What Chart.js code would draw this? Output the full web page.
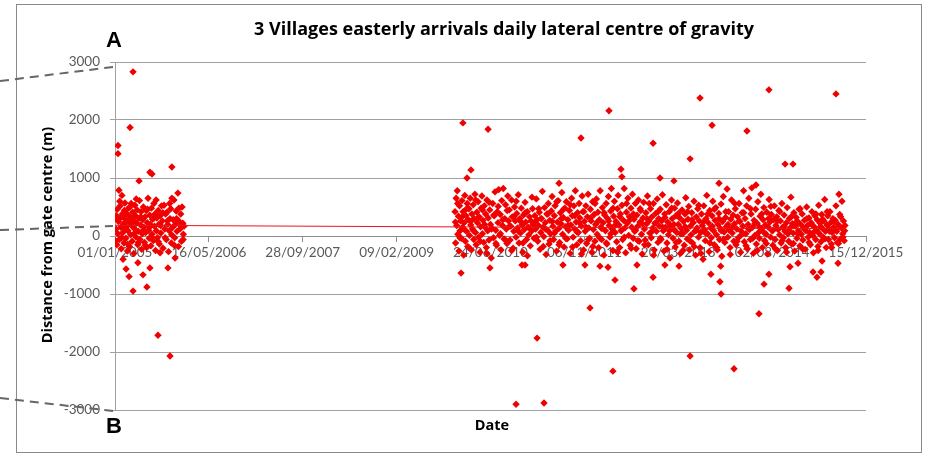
<!DOCTYPE html>
<html lang="en">

<head>
    <meta charset="UTF-8">
    <title>3 Villages easterly arrivals</title>
    <style>
        body { margin: 0; background: #fff; }
    </style>
</head>

<body>
    <canvas id="gravityChart" width="926" height="455"></canvas>

    <script src="https://cdn.jsdelivr.net/npm/chart.js"></script>
    <script>
        // x values are days since 01/01/2005, y values are metres from gate centre
        const xTickStep = 500;
        const yTicks = [-3000, -2000, -1000, 0, 1000, 2000, 3000];

        // first block of daily values (2005)
        const period2005 = [
            [96, 2830], [80, 1870], [16, 1560], [16, 1420], [128, 950], [186, 1100], [197, 1070], [303, 1190],
            [229, -1710], [293, -2070], [96, -950], [170, -880], [149, -670], [75, -700], [59, -570], [186, -550],
            [282, -550], [240, -290], [43, -400], [122, -460], [320, -380],
            [5, 120], [8, 350], [10, -150], [12, 460], [15, 40], [18, 250], [21, 790], [23, -60], [26, 300], [28, 520],
            [31, 150], [33, -220], [37, 700], [39, 380], [42, 60], [45, 210], [48, -120], [50, 440], [53, 570], [55, 290],
            [58, -40], [61, 160], [64, 380], [66, -260], [69, 90], [72, 480], [74, 240], [77, -180], [80, 330], [83, 20],
            [86, 560], [88, 180], [91, -90], [94, 410], [97, 270], [100, -300], [103, 130], [106, 530], [109, 350], [112, -20],
            [115, 220], [118, 450], [121, -150], [124, 80], [127, 300], [130, 610], [133, -60], [136, 190], [139, 420], [142, -230],
            [145, 40], [148, 280], [151, 500], [154, 150], [157, -110], [160, 330], [163, 60], [166, 440], [169, -200], [172, 230],
            [176, 650], [179, 100], [182, -40], [185, 360], [188, 200], [191, -170], [194, 480], [197, 30], [200, 290], [204, -80],
            [207, 560], [210, 170], [213, 380], [216, -250], [220, 90], [223, 310], [226, -30], [230, 440], [233, 200], [236, -140],
            [240, 350], [244, 50], [248, 520], [252, 260], [256, -210], [261, 530], [265, 120], [269, 380], [273, -60], [277, 410],
            [281, 200], [285, -270], [289, 90], [293, 300], [297, 470], [300, -120], [303, 650], [307, 150], [310, 280], [314, 620],
            [318, -30], [322, 200], [326, 430], [330, 80], [335, 740], [338, -180], [342, 250], [346, 120], [350, 380], [354, -90],
            [357, 500], [361, 220], [364, 30], [368, 170],
            [3, -80], [14, 280], [25, 600], [35, -30], [46, 360], [57, 120], [68, -140], [79, 500], [90, 230], [101, 40],
            [113, 640], [125, -110], [137, 330], [149, 90], [161, -160], [173, 460], [184, 150], [196, -20], [208, 310], [219, 620],
            [231, -100], [243, 180], [255, 400], [267, -30], [279, 260], [291, 560], [302, 20], [316, -160], [328, 300], [340, 480],
            [352, 160], [363, -60]
        ];

        // outliers of the second block (2009 - 2015)
        const outliers2010 = [
            [1853, 1950], [1987, 1840], [2482, 1690], [2631, 2160], [2866, 1600], [3063, 1330], [1896, 1140], [1875, 1000],
            [2695, 1150], [2700, 1020], [2903, 1000], [2977, 950], [2365, 910], [3116, 2380], [3180, 1910], [3366, 1810],
            [3483, 2520], [3840, 2450], [3569, 1240], [3611, 1240], [3217, 910], [3414, 880],
            [1843, -640], [1997, -550], [2136, -2900], [2285, -2880], [2248, -1760], [2530, -1240], [2652, -2330], [2663, -760],
            [2764, -910], [2866, -710], [3063, -2070], [3297, -2290], [3228, -1000], [3222, -790], [3174, -660], [3226, -520],
            [3430, -1340], [3457, -830], [3483, -660], [3590, -900], [3595, -530], [3638, -470], [3718, -620], [3760, -620],
            [3739, -710], [3766, -430], [3851, -470], [2168, -500], [2184, -500], [2386, -500], [2503, -500], [2583, -520],
            [2626, -540], [2780, -500], [2929, -500], [3004, -520]
        ];

        // main band of the second block
        const period2010 = [
            [1811, 420], [1814, -120], [1817, 650], [1820, 180], [1823, 780], [1826, 30], [1829, 340], [1832, -260], [1835, 520], [1838, 90],
            [1841, 260], [1845, -40], [1848, 610], [1851, 150], [1854, 420], [1857, -330], [1860, 230], [1863, 700], [1866, -90], [1869, 350],
            [1872, 80], [1876, 560], [1879, -180], [1882, 280], [1885, 470], [1888, 10], [1892, 650], [1895, 190], [1898, -240], [1901, 380],
            [1904, 120], [1908, 540], [1911, -60], [1914, 300], [1917, 720], [1920, 60], [1924, -150], [1927, 410], [1930, 230], [1934, 590],
            [1937, -20], [1940, 330], [1944, -280], [1947, 160], [1950, 480], [1954, 690], [1957, 40], [1960, 270], [1964, -110], [1967, 520],
            [1971, 150], [1974, 380], [1978, -200], [1981, 620], [1985, 90], [1988, 310], [1992, -70], [1996, 450], [2000, 200], [2004, -380],
            [2008, 140], [2012, 560], [2016, -30], [2020, 350], [2024, 760], [2028, 100], [2032, -160], [2036, 420], [2040, 230], [2044, 800],
            [2048, 10], [2052, 370], [2056, -240], [2060, 610], [2064, 180], [2068, 820], [2072, -50], [2076, 300], [2080, 540], [2084, 120],
            [2088, -130], [2092, 690], [2096, 260],
            [2100, 450], [2104, -70], [2108, 170], [2112, 620], [2116, 330], [2120, -210], [2124, 80], [2128, 500], [2132, 260], [2136, -20],
            [2140, 390], [2144, 140], [2148, 710], [2152, -120], [2156, 300], [2160, 50], [2164, 480], [2168, 190], [2172, -280], [2176, 360],
            [2180, 110], [2184, 580], [2188, 240], [2192, -60], [2196, 420], [2200, 150], [2204, 20], [2208, 330], [2212, -170], [2216, 260],
            [2220, 90], [2224, 470], [2228, 200], [2232, -40], [2236, 350], [2240, 120], [2244, 640], [2248, 280], [2252, -90], [2256, 180],
            [2260, 410], [2264, -230], [2268, 60], [2272, 300], [2276, 770], [2280, 150], [2284, -10], [2288, 490], [2292, 230], [2296, -320],
            [2300, 380], [2304, 100], [2308, 560], [2312, -140], [2316, 270], [2320, 40], [2324, 430], [2328, 680], [2332, 170], [2336, -60],
            [2340, 350], [2344, 520], [2348, 90], [2352, -260], [2356, 240], [2360, 610], [2364, 130], [2368, -110], [2372, 400], [2376, 210],
            [2380, 750], [2384, 30], [2388, 320], [2392, -190], [2396, 480], [2400, 160], [2404, 590], [2408, -50], [2412, 280], [2416, 100],
            [2420, 440], [2424, -300], [2428, 190], [2432, 650], [2436, 350], [2440, -20], [2444, 520], [2448, 120], [2452, 780], [2456, 240],
            [2460, -150], [2464, 400], [2468, 60], [2472, 560], [2476, 310], [2480, -80], [2484, 170], [2488, 690], [2492, 420], [2496, -240],
            [2500, 250], [2504, 80], [2508, 520], [2512, -130], [2516, 330], [2520, 720], [2524, 140], [2528, -40], [2532, 460], [2536, 260],
            [2540, -280], [2544, 590], [2548, 110], [2552, 370], [2556, -90], [2560, 200], [2564, 640], [2568, 30], [2572, 410], [2576, -200],
            [2580, 280], [2584, 780], [2588, 150], [2592, -60], [2596, 490], [2600, 230], [2604, -330], [2608, 360], [2612, 90], [2616, 560],
            [2620, -140], [2624, 300], [2628, 680], [2632, 180], [2636, -20], [2640, 430], [2644, 820], [2648, 120], [2652, -250], [2656, 340],
            [2660, 600], [2664, 60], [2668, 250], [2672, -100], [2676, 470], [2680, 700], [2684, 190], [2688, -200], [2692, 380], [2696, 90],
            [2700, 530], [2704, -60], [2708, 270], [2712, 820], [2716, 140], [2720, -290], [2724, 410], [2728, 220], [2732, 650], [2736, 10],
            [2740, 330], [2744, -160], [2748, 480], [2752, 150], [2756, 720], [2760, -40], [2764, 290], [2768, 80], [2772, 560], [2776, -220],
            [2780, 360], [2784, 170], [2788, 620], [2792, -90], [2796, 240], [2800, 440], [2804, 30], [2808, -310], [2812, 310], [2816, 580],
            [2820, 120], [2824, -70], [2828, 400], [2832, 210], [2836, 690], [2840, -150], [2844, 260], [2848, 50], [2852, 470], [2856, -30],
            [2860, 330], [2864, 140], [2868, 560], [2872, -240], [2876, 220], [2880, 390], [2884, 80], [2888, 640], [2892, -110], [2896, 300],
            [2900, 170], [2904, 460], [2908, -60], [2912, 260], [2916, 710], [2920, 90], [2924, -260], [2928, 380], [2932, 150], [2936, 540],
            [2940, -120], [2944, 240], [2948, 20], [2952, 420], [2956, -380], [2960, 180], [2964, 620], [2968, 300], [2972, -40], [2976, 110],
            [2980, 480], [2984, -190], [2988, 350], [2992, 60], [2996, 570], [3000, 200], [3004, -90], [3008, 310], [3012, -300], [3016, 130],
            [3020, 450], [3024, 40], [3028, 250], [3032, -160], [3036, 380], [3040, 660], [3044, 100], [3048, -50], [3052, 290], [3056, 510],
            [3060, -240], [3064, 170], [3068, 20], [3072, 400], [3076, -120], [3080, 230], [3084, 600], [3088, 80], [3092, -330], [3096, 330],
            [3100, 140], [3104, 470], [3108, -20], [3112, 260], [3116, -200], [3120, 60], [3124, 380], [3128, 180], [3132, -400], [3136, 520],
            [3140, 110], [3144, -80], [3148, 300], [3152, 700], [3156, 40], [3160, 230], [3164, -270], [3168, 440], [3172, 140], [3176, -30],
            [3180, 350], [3184, 600], [3188, 90], [3192, -150], [3196, 270], [3200, 490], [3204, 20], [3208, -240], [3212, 200], [3216, 390],
            [3220, -60], [3224, 130], [3228, 550], [3232, -350], [3236, 250], [3240, 680], [3244, 70], [3248, -110], [3252, 320], [3256, 160],
            [3260, 810], [3264, -20], [3268, 420], [3272, 100], [3276, -200], [3280, 290], [3284, 620], [3288, 50], [3292, 360], [3296, -90],
            [3300, 210], [3304, 470], [3308, -150], [3312, 120], [3316, 330], [3320, -30], [3324, 560], [3328, 250], [3332, -280], [3336, 80],
            [3340, 400], [3344, 170], [3348, 780], [3352, -100], [3356, 300], [3360, 40], [3364, 520], [3368, -220], [3372, 200], [3376, 650],
            [3380, 110], [3384, -60], [3388, 380], [3392, 830], [3396, 150], [3400, -300], [3404, 270], [3408, 10], [3412, 460], [3416, -140],
            [3420, 220], [3424, 590], [3428, 60], [3432, -40], [3436, 340], [3440, 720], [3444, 130], [3448, -200], [3452, 280], [3456, 490],
            [3460, -80], [3464, 190], [3468, 30], [3472, 410], [3476, -310], [3480, 150], [3484, 630], [3488, 240], [3492, -20], [3496, 370],
            [3500, 90], [3504, -160], [3508, 280], [3512, 520], [3516, -60], [3520, 180], [3524, 330], [3528, -250], [3532, 110], [3536, 440],
            [3540, 20], [3544, 260], [3548, -120], [3552, 560], [3556, 150], [3560, -30], [3564, 360], [3568, 80], [3572, -200], [3576, 230],
            [3580, 490], [3584, 40], [3588, -90], [3592, 300], [3596, 140], [3600, 670], [3604, -140], [3608, 210], [3612, 50], [3616, 400],
            [3620, -260], [3624, 170], [3628, 320], [3632, -40], [3636, 250], [3640, 90], [3644, 460], [3648, -170], [3652, 200], [3656, 30],
            [3660, 380], [3664, -70], [3668, 140], [3672, 270], [3676, -230], [3680, 90], [3684, 500], [3688, 180], [3692, -20], [3696, 310],
            [3700, 60], [3704, -150], [3708, 230], [3712, 420], [3716, 10], [3720, -290], [3724, 160], [3728, 350], [3732, -60], [3736, 100],
            [3740, 280], [3744, -180], [3748, 530], [3752, 40], [3756, 220], [3760, -100], [3764, 370], [3768, 130], [3772, -20], [3776, 260],
            [3780, 630], [3784, 80], [3788, -200], [3792, 190], [3796, 350], [3800, -60], [3804, 120], [3808, 420], [3812, 230], [3816, -140],
            [3820, 60], [3824, 300], [3828, 150], [3832, -30], [3836, 270], [3840, 520], [3844, 80], [3848, -110], [3852, 200], [3856, 720],
            [3860, 370], [3864, -50], [3868, 140], [3872, 600], [3876, 40], [3880, 260], [3884, -80], [3888, 180]
        ];

        // further days of the second block, read between the above
        const period2010b = [
            [1813, 240], [1825, 560], [1837, -30], [1849, 330], [1861, 110], [1873, 470], [1885, -200], [1897, 260], [1909, 90], [1921, 620],
            [1933, 300], [1945, -90], [1957, 450], [1969, 200], [1981, -300], [1993, 580], [2005, 120], [2017, 360], [2029, -130], [2041, 510],
            [2053, 40], [2065, 280], [2077, -60], [2089, 440], [2101, 170], [2113, -250], [2125, 330], [2137, 600], [2149, 80], [2161, 250],
            [2173, -120], [2185, 400], [2197, -340], [2209, 140], [2221, 670], [2233, 230], [2245, -20], [2257, 470], [2269, 300], [2281, -180],
            [2293, 120], [2305, 380], [2317, -80], [2329, 250], [2341, 50], [2353, 590], [2365, -150], [2377, 300], [2389, 460], [2401, -40],
            [2413, 180], [2425, 540], [2437, -190], [2449, 350], [2461, 70], [2473, 230], [2485, -310], [2497, 420], [2509, 150], [2521, -60],
            [2533, 310], [2545, -180], [2557, 560], [2569, 240], [2581, -30], [2593, 130], [2605, 400], [2617, -120], [2629, 260], [2641, 40],
            [2653, 480], [2665, 190], [2677, -280], [2689, 330], [2701, 110], [2713, -20], [2725, 560], [2737, 260], [2749, -210], [2761, 380],
            [2773, 100], [2785, -80], [2797, 470], [2809, 210], [2821, -150], [2833, 300], [2845, 560], [2857, 70], [2869, -330], [2881, 230],
            [2893, 420], [2905, -40], [2917, 150], [2929, 320], [2941, -230], [2953, 90], [2965, 480], [2977, 200], [2989, -110], [3001, 390],
            [3013, 40], [3025, -250], [3037, 160], [3049, 420], [3061, -80], [3073, 280], [3085, -180], [3097, 100], [3109, 530], [3121, -300],
            [3133, 240], [3145, 50], [3157, 380], [3169, -120], [3181, 170], [3193, 460], [3205, -200], [3217, 300], [3229, 90], [3241, -60],
            [3253, 420], [3265, 200], [3277, -320], [3289, 150], [3301, 560], [3313, -90], [3325, 260], [3337, 20], [3349, 400], [3361, -170],
            [3373, 130], [3385, 470], [3397, -40], [3409, 220], [3421, -250], [3433, 150], [3445, 380], [3457, 60], [3469, -130], [3481, 300],
            [3493, 510], [3505, 100], [3517, -220], [3529, 260], [3541, 420], [3553, -80], [3565, 170], [3577, -280], [3589, 90], [3601, 330],
            [3613, -130], [3625, 230], [3637, 40], [3649, 470], [3661, -220], [3673, 120], [3685, 300], [3697, -110], [3709, 200], [3721, 60],
            [3733, 380], [3745, -250], [3757, 160], [3769, 290], [3781, -50], [3793, 420], [3805, 80], [3817, -200], [3829, 250], [3841, 110],
            [3853, -130], [3865, 330], [3877, -20], [3886, 90]
        ];

        // linear trend line (start and end)
        const trendDays = [0, 3890];
        const trendValues = [185, 125];

        const toPoints = rows => rows.map(r => ({ x: r[0], y: r[1] }));

        function formatDay(v) {
            const d = new Date(Date.UTC(2005, 0, 1) + v * 86400000);
            const dd = String(d.getUTCDate()).padStart(2, '0');
            const mm = String(d.getUTCMonth() + 1).padStart(2, '0');
            return dd + '/' + mm + '/' + d.getUTCFullYear();
        }

        // frame, connector lines, titles and panel letters
        const decorations = {
            id: 'decorations',
            beforeDraw(chart) {
                const ctx = chart.ctx;
                ctx.save();
                ctx.fillStyle = '#fff';
                ctx.fillRect(0, 0, chart.width, chart.height);
                ctx.strokeStyle = '#8a8a8a';
                ctx.lineWidth = 1;
                ctx.strokeRect(16.5, 4.5, 905, 448);
                ctx.restore();
            },
            afterDraw(chart) {
                const ctx = chart.ctx;
                ctx.save();
                ctx.strokeStyle = '#666';
                ctx.lineWidth = 2;
                ctx.setLineDash([9, 6]);
                [[0, 81, 113, 67], [0, 230, 113, 226], [0, 398, 113, 411]].forEach(l => {
                    ctx.beginPath();
                    ctx.moveTo(l[0], l[1]);
                    ctx.lineTo(l[2], l[3]);
                    ctx.stroke();
                });
                ctx.setLineDash([]);

                ctx.fillStyle = '#000';
                ctx.textAlign = 'center';
                ctx.textBaseline = 'middle';
                ctx.font = 'bold 18px "Open Sans"';
                ctx.fillText('3 Villages easterly arrivals daily lateral centre of gravity', 504, 30);
                ctx.font = 'bold 14.5px "Open Sans"';
                ctx.fillText('Date', 492, 426);

                ctx.save();
                ctx.translate(48, 235);
                ctx.rotate(-Math.PI / 2);
                ctx.fillText('Distance from gate centre (m)', 0, 0);
                ctx.restore();

                ctx.font = 'bold 22px "Liberation Sans"';
                ctx.textAlign = 'left';
                ctx.textBaseline = 'alphabetic';
                ctx.fillText('A', 106, 47);
                ctx.fillText('B', 106, 433);
                ctx.restore();
            }
        };

        new Chart(document.getElementById('gravityChart'), {
            type: 'scatter',
            data: {
                datasets: [
                    {
                        type: 'line',
                        label: 'Trend',
                        data: trendDays.map((d, i) => ({ x: d, y: trendValues[i] })),
                        borderColor: '#e8141c',
                        borderWidth: 1,
                        pointRadius: 0,
                        order: 0
                    },
                    {
                        label: 'Daily centre of gravity',
                        data: toPoints(period2005).concat(toPoints(period2010), toPoints(period2010b), toPoints(outliers2010)),
                        pointStyle: 'rectRot',
                        pointRadius: 3.7,
                        backgroundColor: '#f00000',
                        borderColor: '#e00000',
                        borderWidth: 0,
                        order: 1
                    }
                ]
            },
            options: {
                responsive: false,
                animation: false,
                layout: { padding: { left: 0, right: 60, top: 62, bottom: 45 } },
                plugins: {
                    legend: { display: false },
                    tooltip: { enabled: false }
                },
                scales: {
                    x: {
                        type: 'linear',
                        position: { y: 0 },
                        min: 0,
                        max: 4000,
                        ticks: {
                            stepSize: xTickStep,
                            color: '#595959',
                            font: { family: 'Lato', size: 13.5 },
                            padding: 4,
                            maxRotation: 0,
                            callback: v => formatDay(v)
                        },
                        grid: { drawOnChartArea: false, tickLength: 5, color: '#8c8c8c' },
                        border: { color: '#8c8c8c' }
                    },
                    y: {
                        min: yTicks[0],
                        max: yTicks[yTicks.length - 1],
                        afterFit: scale => { scale.width = 115; },
                        afterBuildTicks: scale => { scale.ticks = yTicks.map(v => ({ value: v })); },
                        ticks: {
                            color: '#595959',
                            font: { family: 'Lato', size: 13.5 },
                            padding: 10,
                            callback: v => String(v)
                        },
                        grid: { tickLength: 5, color: '#a0a0a0' },
                        border: { color: '#a0a0a0' }
                    }
                }
            },
            plugins: [decorations]
        });
    </script>
</body>

</html>
